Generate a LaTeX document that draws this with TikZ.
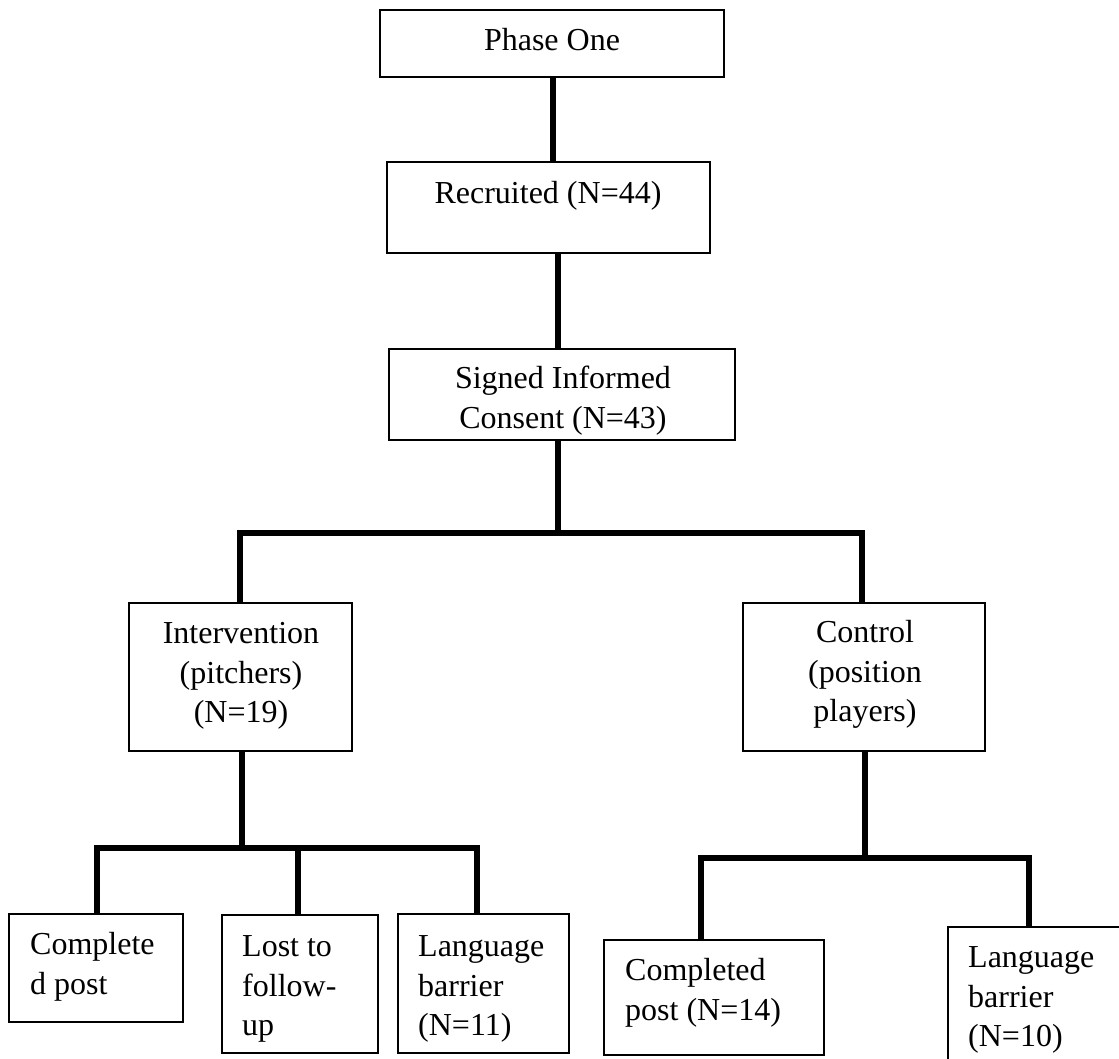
\documentclass[tikz,border=0pt]{standalone}
\usepackage{fontspec}
\setmainfont{Liberation Serif}
\usetikzlibrary{fit}
\begin{document}
\begin{tikzpicture}[x=1pt,y=-1pt,
  box/.style={draw,line width=1.6pt,inner sep=0pt,fill=none},
  conn/.style={line width=5.5pt,line join=miter},
  txt/.style={font=\fontsize{32}{39.5}\selectfont,inner sep=0pt,anchor=north,align=center},
  ltxt/.style={font=\fontsize{32}{39.5}\selectfont,inner sep=0pt,anchor=north west,align=left}]
\useasboundingbox (0,0) rectangle (1119,1059);
\clip (0,0) rectangle (1119,1059);
% boxes
\node[box,fit={(380,10) (724,77)}] (phase) {};
\node[box,fit={(387,162) (710,253)}] (recr) {};
\node[box,fit={(389,349) (735,440)}] (sic) {};
\node[box,fit={(129,603) (352,751)}] (int) {};
\node[box,fit={(743,603) (985,751)}] (ctl) {};
\node[box,fit={(9,914) (183,1022)}] (b1) {};
\node[box,fit={(222,915) (378,1053)}] (b2) {};
\node[box,fit={(398,914) (569,1053)}] (b3) {};
\node[box,fit={(604,940) (824,1055)}] (b4) {};
\node[box,fit={(948,927) (1130,1075)}] (b5) {};
% texts
\node[txt] (tphase) at (552,23) {\strut Phase One};
\node[txt] (trecr) at (548,176) {\strut Recruited (N=44)};
\node[txt] (tsic) at (563,361) {\strut Signed Informed\\\strut Consent (N=43)};
\node[txt] (tint) at (241,616) {\strut Intervention\\\strut (pitchers)\\\strut (N=19)};
\node[txt] (tctl) at (865,615) {\strut Control\\\strut (position\\\strut players)};
\node[ltxt] (tb1) at (30,927) {\strut Complete\\\strut d post};
\node[ltxt] (tb2) at (242,929) {\strut Lost to\\\strut follow-\\\strut up};
\node[ltxt] (tb3) at (418,929) {\strut Language\\\strut barrier\\\strut (N=11)};
\node[ltxt] (tb4) at (625,953) {\strut Completed\\\strut post (N=14)};
\node[ltxt] (tb5) at (968,940) {\strut Language\\\strut barrier\\\strut (N=10)};
% junction coordinates
\coordinate (j0) at (558,533);
\coordinate (jL) at (240,533);
\coordinate (jR) at (862,533);
\coordinate (k0) at (242,848);
\coordinate (k1) at (97,848);
\coordinate (k2) at (298,848);
\coordinate (k3) at (477,848);
\coordinate (m0) at (865,858);
\coordinate (m1) at (701,858);
\coordinate (m2) at (1029,858);
% connectors
\draw[conn] (phase.south -| 553,0) -- (recr.north -| 553,0);
\draw[conn] (recr.south -| j0) -- (sic.north -| j0);
\draw[conn] (sic.south -| j0) -- (j0);
\draw[conn] (int.north -| jL) -- (jL) -- (jR) -- (ctl.north -| jR);
\draw[conn] (int.south -| k0) -- (k0);
\draw[conn] (b1.north -| k1) -- (k1) -- (k3) -- (b3.north -| k3);
\draw[conn] (k2) -- (b2.north -| k2);
\draw[conn] (ctl.south -| m0) -- (m0);
\draw[conn] (b4.north -| m1) -- (m1) -- (m2) -- (b5.north -| m2);
\end{tikzpicture}
\end{document}
